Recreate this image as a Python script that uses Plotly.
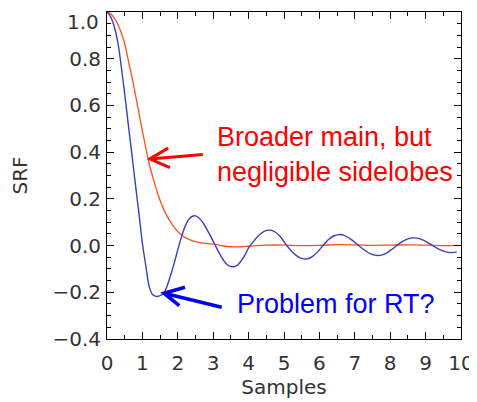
import plotly.graph_objects as go

# sample positions and response values
samples_blue = [0.0, 0.1, 0.2, 0.3, 0.4, 0.5, 0.6, 0.7, 0.8, 0.9, 1.0, 1.1, 1.2, 1.3, 1.4, 1.5,
                1.6, 1.7, 1.8, 1.9, 2.0, 2.1, 2.2, 2.3, 2.4, 2.5, 2.6, 2.7, 2.8, 2.9, 3.0, 3.1,
                3.2, 3.3, 3.4, 3.5, 3.6, 3.7, 3.8, 3.9, 4.0, 4.15, 4.3, 4.45, 4.6, 4.75, 4.9,
                5.05, 5.2, 5.35, 5.5, 5.65, 5.8, 5.95, 6.1, 6.25, 6.4, 6.55, 6.7, 6.85, 7.0,
                7.15, 7.3, 7.45, 7.6, 7.75, 7.9, 8.05, 8.2, 8.35, 8.5, 8.65, 8.8, 8.95, 9.1,
                9.25, 9.4, 9.55, 9.7, 9.88]
srf_blue = [1.000, 0.980, 0.940, 0.875, 0.770, 0.650, 0.520, 0.395, 0.265, 0.140, 0.010,
            -0.090, -0.180, -0.212, -0.218, -0.214, -0.205, -0.172, -0.125, -0.075, -0.018,
            0.035, 0.080, 0.110, 0.125, 0.127, 0.118, 0.100, 0.075, 0.048, 0.018, -0.012,
            -0.040, -0.065, -0.082, -0.090, -0.090, -0.082, -0.063, -0.040, -0.010, 0.020,
            0.045, 0.062, 0.066, 0.058, 0.038, 0.006, -0.022, -0.043, -0.055, -0.057, -0.047,
            -0.027, 0.000, 0.025, 0.041, 0.047, 0.044, 0.031, 0.014, -0.005, -0.022, -0.036,
            -0.042, -0.041, -0.032, -0.016, 0.002, 0.018, 0.029, 0.033, 0.031, 0.022, 0.009,
            -0.005, -0.017, -0.026, -0.030, -0.028]

samples_red = [0.0, 0.1, 0.2, 0.3, 0.4, 0.5, 0.6, 0.7, 0.8, 0.9, 1.0, 1.1, 1.2, 1.3, 1.4, 1.5,
               1.6, 1.7, 1.8, 1.9, 2.0, 2.1, 2.2, 2.4, 2.6, 2.8, 3.0, 3.2, 3.4, 3.6, 3.8, 4.0,
               4.5, 5.0, 5.5, 6.0, 6.5, 7.0, 7.5, 8.0, 8.5, 9.0, 9.5, 9.88]
srf_red = [1.000, 0.993, 0.975, 0.950, 0.912, 0.865, 0.795, 0.725, 0.648, 0.570, 0.490,
           0.415, 0.345, 0.290, 0.238, 0.193, 0.155, 0.125, 0.100, 0.078, 0.060, 0.046,
           0.035, 0.021, 0.014, 0.009, 0.006, 0.001, -0.004, -0.006, -0.005, -0.003, 0.002,
           0.002, 0.000, 0.001, 0.004, 0.003, 0.001, 0.002, 0.003, 0.002, 0.000, 0.001]

ytick_vals = [-0.4, -0.2, 0.0, 0.2, 0.4, 0.6, 0.8, 1.0]
ytick_text = ["\u22120.4", "\u22120.2", "0.0", "0.2", "0.4", "0.6", "0.8", ""]
xtick_vals = [0, 1, 2, 3, 4, 5, 6, 7, 8, 9, 10]

fig = go.Figure()
fig.add_trace(go.Scatter(x=samples_red, y=srf_red, mode="lines",
                         line=dict(color="#ff4f1f", width=1.3, shape="spline")))
fig.add_trace(go.Scatter(x=samples_blue, y=srf_blue, mode="lines",
                         line=dict(color="#3c3cc4", width=1.4, shape="spline")))

tick_font = dict(family="DejaVu Sans", size=20, color="#333")
axis_style = dict(
    showline=True, linecolor="black", linewidth=1, mirror="ticks",
    ticks="inside", ticklen=7, tickwidth=1, tickcolor="black",
    showgrid=False, zeroline=False, automargin=False, ticklabeloverflow="allow",
    tickfont=tick_font,
)

# the page body has an 8px margin, so the figure is 8px smaller than the window
fig.update_layout(
    width=469, height=394,
    margin={"l": 99, "r": 16, "t": 4, "b": 63},
    plot_bgcolor="white", paper_bgcolor="white",
    showlegend=False,
    xaxis=dict(axis_style, range=[0, 10], tickvals=xtick_vals, ticklabelstandoff=6,
               minor=dict(ticks="inside", ticklen=4, dtick=0.5, tickcolor="black"),
               title=dict(text="Samples", standoff=0, font=tick_font)),
    yaxis=dict(axis_style, range=[-0.4, 1.0], tickvals=ytick_vals, ticktext=ytick_text,
               ticklabelstandoff=1,
               minor=dict(ticks="inside", ticklen=4, dtick=0.05, tickcolor="black"),
               title=dict(text="SRF", standoff=22, font=tick_font)),
)

# top tick label sits a little below its tick, as in the original
fig.add_annotation(x=0, y=1.0, xref="paper", yref="y", showarrow=False, text="1.0",
                   xanchor="right", yanchor="middle", xshift=-6, yshift=-9.5,
                   font=tick_font)

# text callouts
fig.add_annotation(x=3.04, y=0.39, xref="x", yref="y", showarrow=False,
                   text="Broader main, but<br>negligible sidelobes", align="left",
                   xanchor="left", yanchor="middle",
                   font=dict(family="Liberation Sans", size=27, color="#ff0000"))
fig.add_annotation(x=3.62, y=-0.252, xref="x", yref="y", showarrow=False,
                   text="Problem for RT?", xanchor="left", yanchor="middle",
                   font=dict(family="Liberation Sans", size=27, color="#0000ff"))

# open-headed arrows, drawn in pixels from the tip
fig.add_shape(type="path", xref="x", yref="y", xsizemode="pixel", ysizemode="pixel",
              xanchor=1.21, yanchor=0.371,
              path="M 53,4.5 L 0,0 M 18.3,10.8 L 0,0 L 20,-8.8",
              line=dict(color="#ff0000", width=3))
fig.add_shape(type="path", xref="x", yref="y", xsizemode="pixel", ysizemode="pixel",
              xanchor=1.61, yanchor=-0.204,
              path="M 57.7,-14 L 0,0 M 21,6 L 0,0 L 15.3,-12.3",
              line=dict(color="#0000ff", width=3.5))

fig.write_html("out.html")
